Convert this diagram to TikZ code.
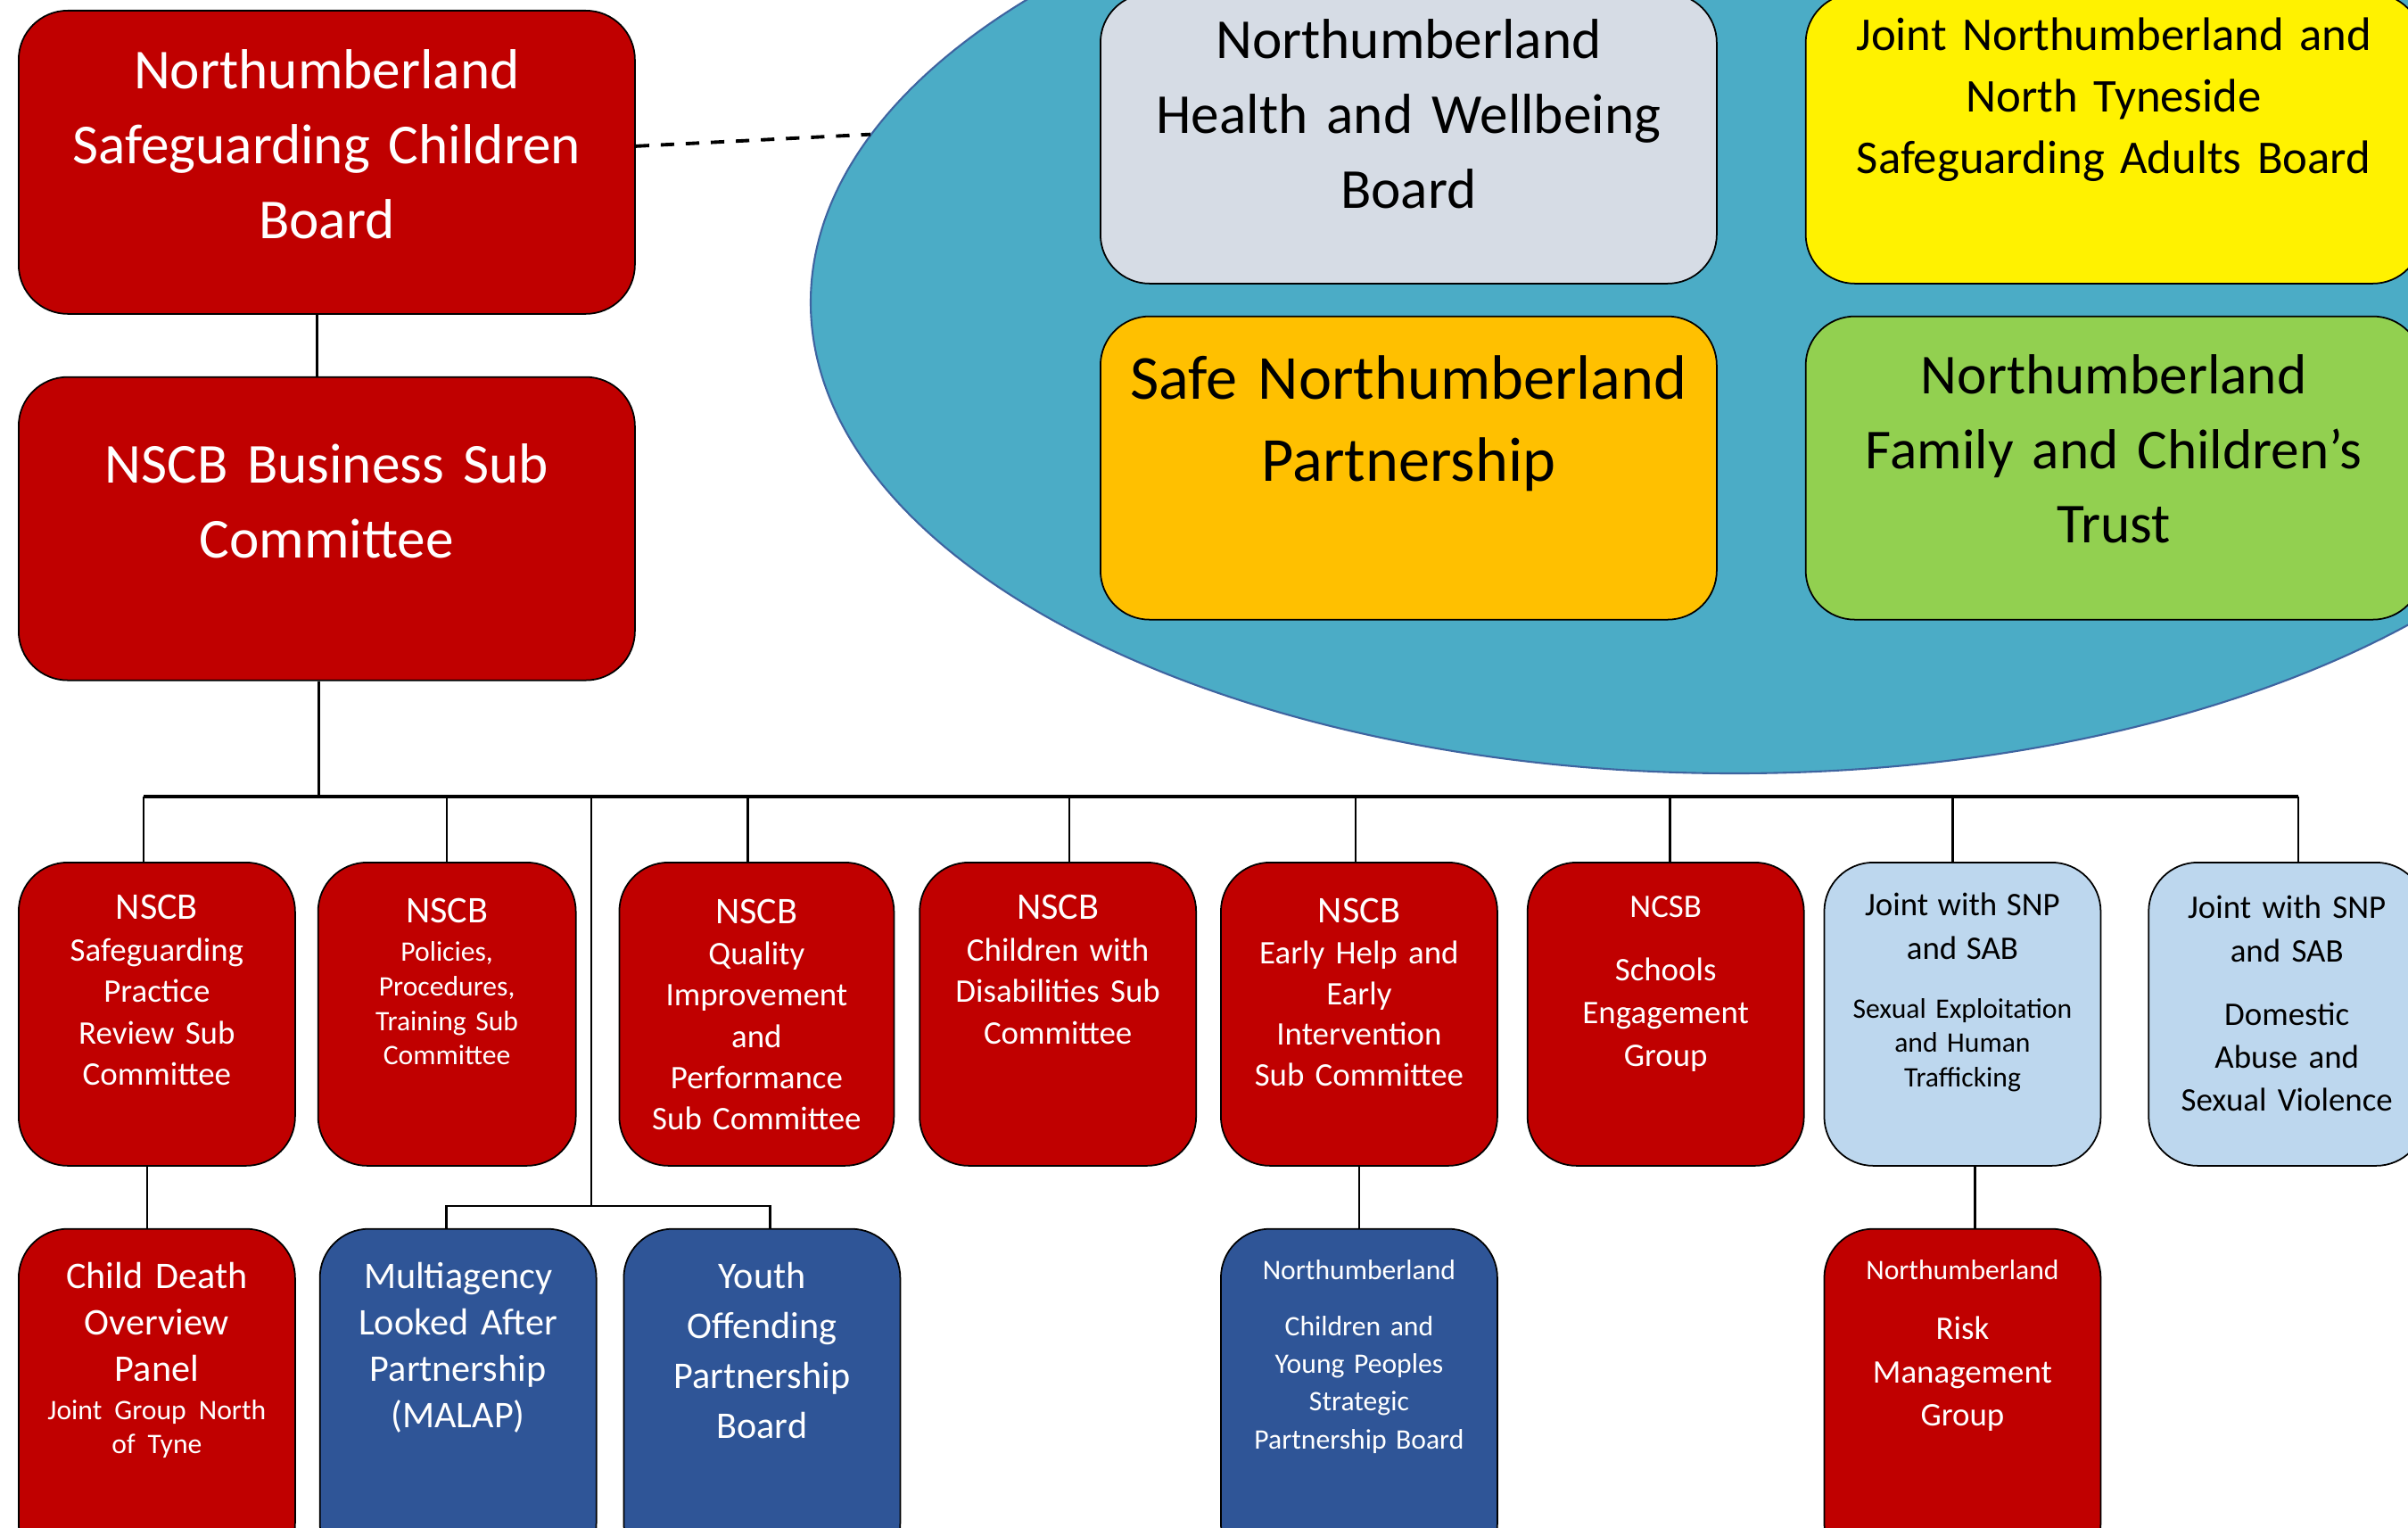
\documentclass[tikz,border=0pt]{standalone}
\usepackage{fontspec}
\setmainfont{Carlito}
\usepackage{tikz}
\usetikzlibrary{positioning}
\usetikzlibrary{shapes.geometric}

\definecolor{nred}{HTML}{C00000}
\definecolor{nblue}{HTML}{2F5597}
\definecolor{pale}{HTML}{BDD7EE}
\definecolor{mist}{HTML}{D6DCE5}
\definecolor{sea}{HTML}{4BACC6}
\definecolor{seaedge}{HTML}{3E64A0}
\definecolor{amber}{HTML}{FFC000}
\definecolor{leaf}{HTML}{92D050}

\newcommand{\fsz}[1]{\fontsize{#1}{\baselineskip}\selectfont}
\lineskiplimit=-\maxdimen

\begin{document}
\begin{tikzpicture}[node distance = 0.3cm, line width=0.7pt]
\tikzstyle{org}=[draw, line width=0.5pt, rounded corners=0.55cm, inner sep=0pt, align=center]
\tikzstyle{big}=[org, text width=6.91cm]
\tikzstyle{sub}=[org, text width=3.1cm]
\tikzstyle{redbox}=[fill=nred, text=white]
\tikzstyle{bluebox}=[fill=nblue, text=white]
\tikzstyle{palebox}=[fill=pale]
\tikzstyle{busline}=[line width=1pt]
\tikzstyle{dashline}=[line width=1.1pt, dash pattern=on 4.3pt off 3.7pt]
\useasboundingbox (0,0) rectangle (27,-17.12);

% board and partners
\node[big, redbox, anchor=north west, text height=0.88cm, text depth=2.52cm, font=\fontsize{18}{23.9}\selectfont]
	(nscb)	at (0.20,-0.11)		{Northumberland\\Safeguarding Children\\Board};
\node[big, redbox, text height=1.19cm, text depth=2.21cm, font=\fontsize{18}{23.9}\selectfont]
	(business)	[below=0.69cm of nscb]	{NSCB Business Sub\\Committee};
\node[ellipse, draw=seaedge, line width=0.6pt, fill=sea, minimum width=20.72cm, minimum height=10.56cm, inner sep=0pt]
	(partners)	at (19.45,-3.39)	{};
\node[big, fill=mist, anchor=north west, text height=0.73cm, text depth=2.52cm, font=\fontsize{18}{23.9}\selectfont]
	(hwb)	at (12.33,0.08)		{Northumberland\\Health and Wellbeing\\Board};
\node[big, fill=yellow, text height=0.64cm, text depth=2.61cm, font=\fontsize{15}{19.6}\selectfont]
	(sab)	[right=0.98cm of hwb]	{Joint Northumberland and\\North Tyneside\\Safeguarding Adults Board};
\node[big, fill=amber, text height=0.93cm, text depth=2.47cm, font=\fontsize{20}{26.2}\selectfont]
	(snp)	[below=0.35cm of hwb]	{Safe Northumberland\\Partnership};
\node[big, fill=leaf, text height=0.87cm, text depth=2.53cm, font=\fontsize{18}{23.8}\selectfont]
	(trust)	[below=0.35cm of sab]	{Northumberland\\Family and Children’s\\Trust};

% sub committees
\node[sub, redbox, anchor=north west, text height=0.64cm, text depth=2.76cm, font=\fontsize{10.5}{13.2}\selectfont]
	(sprc)	at (0.20,-9.66)		{{\fsz{12}NSCB}\\Safeguarding\\Practice\\Review Sub\\Committee};
\node[sub, redbox, text width=2.89cm, text height=0.68cm, text depth=2.72cm, font=\fontsize{9}{11}\selectfont]
	(pol)	[right=0.24cm of sprc]	{{\fsz{12}NSCB}\\[1.2pt]Policies,\\Procedures,\\Training Sub\\Committee};
\node[sub, redbox, text width=3.08cm, text height=0.69cm, text depth=2.71cm, font=\fontsize{10.5}{13.1}\selectfont]
	(qip)	[right=0.47cm of pol]	{{\fsz{12}NSCB}\\Quality\\Improvement\\and\\Performance\\Sub Committee};
\node[sub, redbox, text height=0.64cm, text depth=2.76cm, font=\fontsize{10.5}{13.2}\selectfont]
	(cwd)	[right=0.27cm of qip]	{{\fsz{12}NSCB}\\Children with\\Disabilities Sub\\Committee};
\node[sub, redbox, text height=0.68cm, text depth=2.72cm, font=\fontsize{10.5}{13}\selectfont]
	(ehi)	[right=0.26cm of cwd]	{{\fsz{12}NSCB}\\Early Help and\\Early\\Intervention\\Sub Committee};
\node[sub, redbox, text height=0.62cm, text depth=2.78cm, font=\fontsize{10.5}{13.7}\selectfont]
	(seg)	[right=0.32cm of ehi]	{NCSB\\[6.3pt]Schools\\Engagement\\Group};
\node[sub, palebox, text height=0.60cm, text depth=2.80cm, font=\fontsize{9}{11}\selectfont]
	(sexp)	[right=0.21cm of seg]	{{\fsz{10.5}Joint with SNP\\[2.7pt]and SAB}\\[7.8pt]Sexual Exploitation\\and Human\\Trafficking};
\node[sub, palebox, text height=0.63cm, text depth=2.77cm, font=\fontsize{10.5}{13.7}\selectfont]
	(dasv)	[right=0.52cm of sexp]	{Joint with SNP\\and SAB\\[6.5pt]Domestic\\Abuse and\\Sexual Violence};

% second row
\node[sub, redbox, text height=0.67cm, text depth=3.18cm, font=\fontsize{12}{10.8}\selectfont]
	(cdop)	[below=0.69cm of sprc]	{Child Death\\[4pt]Overview\\[4pt]Panel\\[1.4pt]{\fsz{9}Joint Group North\\of Tyne}};
\node[sub, bluebox, text height=0.67cm, text depth=3.18cm, font=\fontsize{12}{14.8}\selectfont]
	(malap)	[right=0.26cm of cdop]	{Multiagency\\Looked After\\Partnership\\(MALAP)};
\node[sub, bluebox, text height=0.67cm, text depth=3.18cm, font=\fontsize{12}{15.9}\selectfont]
	(yot)	[right=0.29cm of malap]	{Youth\\Offending\\Partnership\\Board};
\node[sub, bluebox, text height=0.57cm, text depth=3.28cm, font=\fontsize{9}{12}\selectfont]
	(cyp)	[below=0.69cm of ehi]	{Northumberland\\[5.9pt]Children and\\Young Peoples\\Strategic\\Partnership Board};
\node[sub, redbox, text height=0.57cm, text depth=3.28cm, font=\fontsize{10.5}{13.8}\selectfont]
	(mrm)	[below=0.69cm of sexp]	{{\fsz{9}Northumberland}\\[5.3pt]Risk\\Management\\Group};

% connectors
\coordinate (bus) at (0,-8.93);
\coordinate (split) at (6.63,-13.52);
\draw[dashline] ([yshift=0.18cm]nscb.east) -- (partners.169.6);
\draw ([xshift=-0.11cm]nscb.south) -- ([xshift=-0.11cm]business.north);
\draw ([xshift=-0.09cm]business.south) -- ([xshift=-0.09cm]business.south |- bus);
\draw[busline] ([xshift=-0.15cm]sprc.north |- bus) -- ([xshift=0.13cm]dasv.north |- bus);
\foreach \n/\dx in {sprc/-0.15,pol/0,qip/-0.10,cwd/0.13,ehi/-0.04,seg/0.05,sexp/-0.11,dasv/0.13}
	\draw ([xshift=\dx cm]\n.north) -- ([xshift=\dx cm]\n.north |- bus);
\draw (split |- bus) -- (split);
\draw ([xshift=-0.13cm]malap.north) |- (split) -| ([xshift=0.09cm]yot.north);
\path ([xshift=-0.11cm]sprc.south)	edge	([xshift=-0.11cm]cdop.north)
	 (ehi)	edge	(cyp)
	 ([xshift=0.14cm]sexp.south)	edge	([xshift=0.14cm]mrm.north);
\end{tikzpicture}
\end{document}
